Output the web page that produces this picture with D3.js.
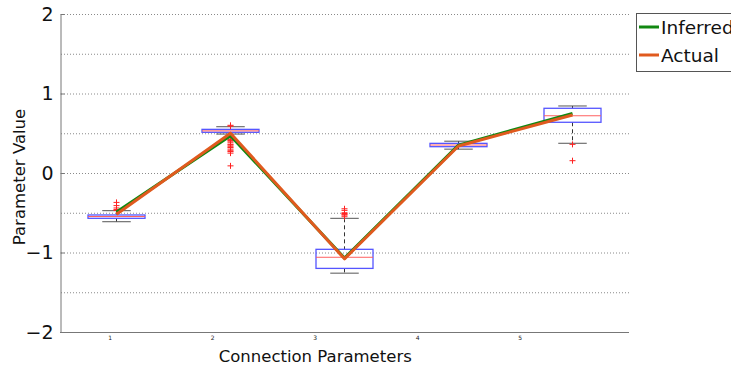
<!DOCTYPE html>
<html>
<head>
<meta charset="utf-8">
<script src="https://cdn.jsdelivr.net/npm/d3@7/dist/d3.min.js"></script>
<style>
  html, body { margin: 0; padding: 0; background: #fff; overflow: hidden; }
  svg { display: block; font-family: "DejaVu Sans", sans-serif; }
</style>
</head>
<body>
<svg id="chart" width="731" height="369"></svg>
<script>
// Connection parameters (box positions)
const params = [1, 2, 3, 4, 5];
const tickLabels = ["1", "2", "3", "4", "5"];
const yTicks = [-2, -1, 0, 1, 2];
const yGrid = [-1.5, -1, -0.5, 0, 0.5, 1, 1.5, 2];

// Box statistics per parameter
const q1 = [-0.570, 0.512, -1.200, 0.331, 0.638];
const median = [-0.547, 0.530, -1.060, 0.352, 0.720];
const q3 = [-0.528, 0.549, -0.960, 0.373, 0.814];
const whiskerLow = [-0.613, 0.490, -1.260, 0.300, 0.374];
const whiskerHigh = [-0.474, 0.582, -0.570, 0.400, 0.843];

// Outliers per parameter
const outliers1 = [-0.37, -0.41, -0.44, -0.46, -0.47];
const outliers2 = [0.60, 0.59, 0.48, 0.47, 0.46, 0.45, 0.44, 0.42, 0.41, 0.40, 0.38,
                   0.36, 0.35, 0.33, 0.32, 0.30, 0.28, 0.27, 0.25, 0.09];
const outliers3 = [-0.45, -0.47, -0.50, -0.51, -0.52, -0.53, -0.55];
const outliers4 = [];
const outliers5 = [0.36, 0.155];
const outliers = [outliers1, outliers2, outliers3, outliers4, outliers5];

// Line series
const inferred = [-0.49, 0.47, -1.07, 0.35, 0.75];
const actual = [-0.52, 0.50, -1.08, 0.34, 0.73];
const seriesNames = ["Inferred", "Actual"];

const svg = d3.select("#chart");
const plotLeft = 60, plotRight = 629, plotTop = 14, plotBottom = 332;

const x = d3.scaleLinear().domain([0.5, 5.5]).range([59.5, 629.5]);
// tick labels and x title are laid out on a narrower span
const xLab = d3.scaleLinear().domain([0.5, 5.5]).range([59, 571.5]);
const y = d3.scaleLinear().domain([-2, 2]).range([plotBottom, plotTop]);

// dotted grid
svg.append("g").selectAll("line").data(yGrid).join("line")
  .attr("x1", plotLeft + 1).attr("x2", plotRight)
  .attr("y1", d => y(d) + 0.5).attr("y2", d => y(d) + 0.5)
  .attr("stroke", "#8a8a8a").attr("stroke-width", 1)
  .attr("stroke-dasharray", "1,2");

// y axis
const yAxis = svg.append("g")
  .attr("transform", `translate(${plotLeft + 0.5},0)`)
  .call(d3.axisLeft(y).tickValues(yTicks).tickFormat(d3.format("d"))
    .tickSizeInner(-4).tickSizeOuter(0).tickPadding(7));
yAxis.select(".domain").attr("stroke", "#777");
yAxis.selectAll(".tick line").attr("stroke", "#777");
yAxis.selectAll(".tick text").attr("font-size", 19).attr("fill", "#111")
  .attr("font-family", "DejaVu Sans");

// x axis line
svg.append("line")
  .attr("x1", plotLeft).attr("x2", plotRight)
  .attr("y1", plotBottom + 0.5).attr("y2", plotBottom + 0.5)
  .attr("stroke", "#777");

// x tick labels
svg.append("g").selectAll("text").data(params).join("text")
  .attr("x", d => xLab(d)).attr("y", 340)
  .attr("text-anchor", "middle").attr("font-size", 6).attr("fill", "#222")
  .text((d, i) => tickLabels[i]);

// axis titles
svg.append("text")
  .attr("x", xLab(3)).attr("y", 362)
  .attr("text-anchor", "middle").attr("font-size", 16.5).attr("fill", "#111")
  .text("Connection Parameters");
svg.append("text")
  .attr("transform", `translate(25,${(plotTop + plotBottom) / 2 + 4}) rotate(-90)`)
  .attr("text-anchor", "middle").attr("font-size", 16.5).attr("fill", "#111")
  .text("Parameter Value");

// box plots
const boxHalf = 0.25, capHalf = 0.125;
const boxes = svg.append("g").selectAll("g").data(params).join("g");

// whiskers (dashed)
boxes.append("line")
  .attr("x1", d => x(d)).attr("x2", d => x(d))
  .attr("y1", (d, i) => y(whiskerHigh[i])).attr("y2", (d, i) => y(q3[i]))
  .attr("stroke", "#333").attr("stroke-dasharray", "4,3");
boxes.append("line")
  .attr("x1", d => x(d)).attr("x2", d => x(d))
  .attr("y1", (d, i) => y(q1[i])).attr("y2", (d, i) => y(whiskerLow[i]))
  .attr("stroke", "#333").attr("stroke-dasharray", "4,3");
// caps
boxes.append("line")
  .attr("x1", d => x(d - capHalf)).attr("x2", d => x(d + capHalf))
  .attr("y1", (d, i) => y(whiskerHigh[i])).attr("y2", (d, i) => y(whiskerHigh[i]))
  .attr("stroke", "#555");
boxes.append("line")
  .attr("x1", d => x(d - capHalf)).attr("x2", d => x(d + capHalf))
  .attr("y1", (d, i) => y(whiskerLow[i])).attr("y2", (d, i) => y(whiskerLow[i]))
  .attr("stroke", "#555");
// boxes
boxes.append("rect")
  .attr("x", d => x(d - boxHalf)).attr("width", d => x(d + boxHalf) - x(d - boxHalf))
  .attr("y", (d, i) => y(q3[i])).attr("height", (d, i) => y(q1[i]) - y(q3[i]))
  .attr("fill", "none").attr("stroke", "#5555ff").attr("stroke-width", 1.3);
// medians
boxes.append("line")
  .attr("x1", d => x(d - boxHalf)).attr("x2", d => x(d + boxHalf))
  .attr("y1", (d, i) => y(median[i])).attr("y2", (d, i) => y(median[i]))
  .attr("stroke", "#ff6060");
// outliers
boxes.each(function (d, i) {
  d3.select(this).selectAll("path.out").data(outliers[i]).join("path")
    .attr("class", "out")
    .attr("transform", v => `translate(${x(d)},${y(v)})`)
    .attr("d", "M-3,0H3M0,-3V3")
    .attr("stroke", "#ff2020").attr("stroke-width", 1);
});

// series lines
const line = d3.line().x((v, i) => x(params[i])).y(v => y(v));
const colors = ["#118811", "#e05a1e"];
[inferred, actual].forEach((s, k) => {
  svg.append("path").datum(s)
    .attr("d", line).attr("fill", "none")
    .attr("stroke", colors[k]).attr("stroke-width", 3)
    .attr("stroke-linejoin", "round");
});

// legend
const lg = svg.append("g");
lg.append("rect").attr("x", 636.5).attr("y", 13.5).attr("width", 130).attr("height", 58)
  .attr("fill", "#fff").attr("stroke", "#555");
seriesNames.forEach((name, k) => {
  const ly = 27 + k * 28;
  lg.append("line").attr("x1", 639).attr("x2", 659).attr("y1", ly).attr("y2", ly)
    .attr("stroke", colors[k]).attr("stroke-width", 3);
  lg.append("text").attr("x", 661).attr("y", ly + 7)
    .attr("font-size", 18.5).attr("fill", "#111").text(name);
});
</script>
</body>
</html>
